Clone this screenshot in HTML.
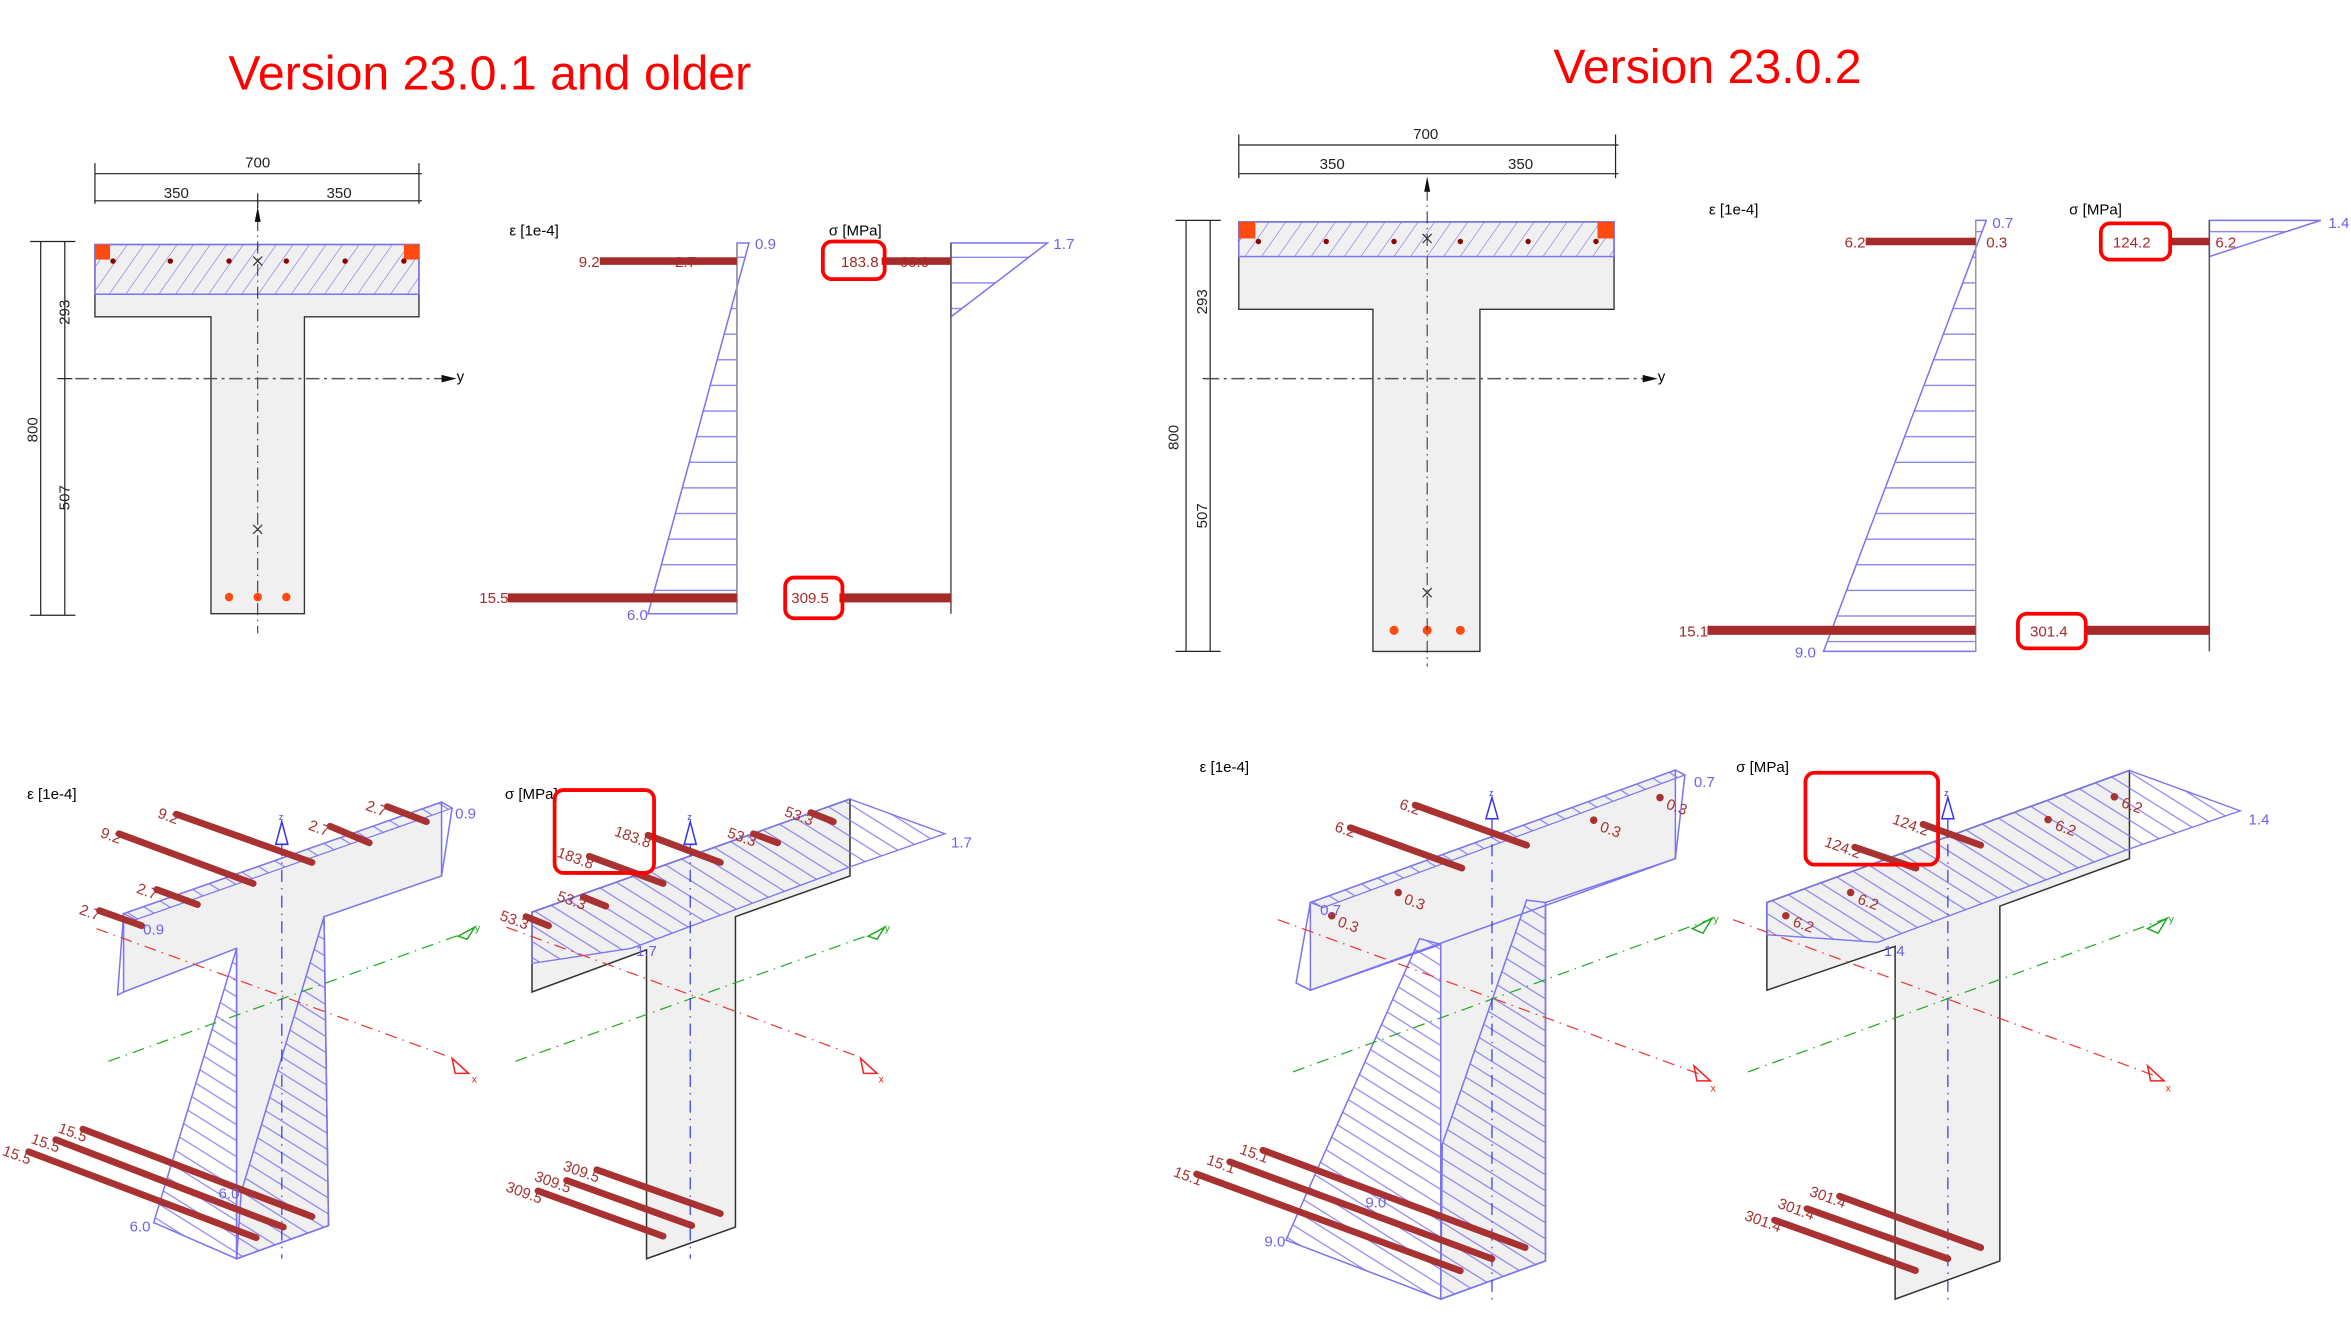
<!DOCTYPE html>
<html><head><meta charset="utf-8"><style>
html,body{margin:0;padding:0;background:#fff;}
svg{display:block;}
text{font-family:"Liberation Sans",sans-serif;}
</style></head><body>
<svg width="2351" height="1342" viewBox="0 0 1560 890" xmlns="http://www.w3.org/2000/svg">
<defs>
<pattern id="hd" width="9" height="9" patternUnits="userSpaceOnUse" patternTransform="rotate(35)"><line x1="0" y1="0" x2="0" y2="9" stroke="#6b62e8" stroke-width="0.7"/></pattern>
<pattern id="hh" width="10" height="17" patternUnits="userSpaceOnUse"><line x1="0" y1="0.5" x2="10" y2="0.5" stroke="#7b74ee" stroke-width="0.8"/></pattern>
<pattern id="h3" width="10" height="9" patternUnits="userSpaceOnUse" patternTransform="rotate(32)"><line x1="0" y1="0.5" x2="10" y2="0.5" stroke="#7b74ee" stroke-width="0.7"/></pattern>
</defs>

<!-- Titles -->
<text x="325" y="59" font-size="32" fill="#f00" text-anchor="middle">Version 23.0.1 and older</text>
<text x="1133" y="55" font-size="32" fill="#f00" text-anchor="middle">Version 23.0.2</text>

<!-- ========== TOP LEFT section ========== -->
<g stroke="#222" stroke-width="0.8" fill="none">
<line x1="63" y1="115" x2="280" y2="115"/><line x1="63" y1="108" x2="63" y2="135"/><line x1="278" y1="108" x2="278" y2="135"/>
<line x1="63" y1="133" x2="280" y2="133"/><line x1="171" y1="128" x2="171" y2="138"/>
<line x1="27" y1="160" x2="27" y2="408"/><line x1="43" y1="160" x2="43" y2="408"/>
<line x1="20" y1="160" x2="50" y2="160"/><line x1="20" y1="408" x2="50" y2="408"/><line x1="38" y1="251" x2="48" y2="251"/>
</g>
<g font-size="10" fill="#222">
<text x="171" y="111" text-anchor="middle">700</text>
<text x="117" y="131" text-anchor="middle">350</text><text x="225" y="131" text-anchor="middle">350</text>
<text transform="translate(25,285) rotate(-90)" text-anchor="middle">800</text>
<text transform="translate(46,207) rotate(-90)" text-anchor="middle">293</text>
<text transform="translate(46,330) rotate(-90)" text-anchor="middle">507</text>
</g>
<path d="M63,162 H278 V210 H202 V407 H140 V210 H63 Z" fill="#f0f0f0" stroke="#333" stroke-width="0.9"/>
<rect x="63" y="162" width="215" height="33" fill="url(#hd)" stroke="#7b74ee" stroke-width="1"/>
<rect x="63" y="162" width="10" height="10" fill="#ff4a10"/><rect x="268" y="162" width="10" height="10" fill="#ff4a10"/>
<g fill="#8b0000"><circle cx="75" cy="173" r="1.8"/><circle cx="113" cy="173" r="1.8"/><circle cx="152" cy="173" r="1.8"/><circle cx="190" cy="173" r="1.8"/><circle cx="229" cy="173" r="1.8"/><circle cx="268" cy="173" r="1.8"/></g>
<g fill="#ff4a10"><circle cx="152" cy="396" r="2.8"/><circle cx="171" cy="396" r="2.8"/><circle cx="190" cy="396" r="2.8"/></g>
<line x1="171" y1="145" x2="171" y2="420" stroke="#333" stroke-width="0.7" stroke-dasharray="8,3,1,3"/>
<path d="M171,137 L169,147 L173,147 Z" fill="#111"/>
<line x1="50" y1="251" x2="298" y2="251" stroke="#555" stroke-width="1" stroke-dasharray="9,3,2,3"/>
<path d="M303,251 L293,248.5 L293,253.5 Z" fill="#111"/><text x="303" y="253" font-size="10">y</text>
<g stroke="#333" stroke-width="0.8"><path d="M168,170 L174,176 M174,170 L168,176"/><path d="M168,348 L174,354 M174,348 L168,354"/></g>

<!-- strain 2D left -->
<text x="338" y="156" font-size="10">ε [1e-4]</text>
<path d="M489,161 L497,161 L430,407 L489,407 Z" fill="url(#hh)" stroke="none"/>
<path d="M489,161 L497,161 L430,407 L489,407 Z" fill="none" stroke="#7b74ee" stroke-width="1"/>
<line x1="489" y1="161" x2="489" y2="407" stroke="#999" stroke-width="1"/>
<rect x="398" y="170.5" width="91" height="5" fill="#a52a2a"/>
<rect x="337" y="393.5" width="152" height="6" fill="#a52a2a"/>
<g font-size="10"><text x="384" y="177" fill="#a52a2a">9.2</text><text x="448" y="177" fill="#a52a2a">2.7</text>
<text x="318" y="400" fill="#a52a2a">15.5</text>
<text x="501" y="165" fill="#6b62e8">0.9</text><text x="416" y="411" fill="#6b62e8">6.0</text></g>
<!-- stress 2D left -->
<text x="550" y="156" font-size="10">σ [MPa]</text>
<path d="M631,161 L695,161 L631,210 Z" fill="url(#hh)" stroke="#7b74ee" stroke-width="1"/>
<line x1="631" y1="161" x2="631" y2="407" stroke="#555" stroke-width="1"/>
<rect x="585" y="170.5" width="46" height="5" fill="#a52a2a"/>
<rect x="557" y="393.5" width="74" height="6" fill="#a52a2a"/>
<g font-size="10" fill="#a52a2a"><text x="558" y="177">183.8</text><text x="597" y="177">60.0</text><text x="525" y="400">309.5</text></g>
<text x="699" y="165" font-size="10" fill="#6b62e8">1.7</text>
<rect x="546" y="160" width="41" height="25" rx="6" fill="none" stroke="#f00" stroke-width="2.5"/>
<rect x="521" y="383" width="38" height="27" rx="6" fill="none" stroke="#f00" stroke-width="2.5"/>

<!-- ========== TOP RIGHT section ========== -->
<g stroke="#222" stroke-width="0.8" fill="none">
<line x1="822" y1="96" x2="1074" y2="96"/><line x1="822" y1="89" x2="822" y2="118"/><line x1="1072" y1="89" x2="1072" y2="118"/>
<line x1="822" y1="115" x2="1074" y2="115"/>
<line x1="787" y1="146" x2="787" y2="432"/><line x1="803" y1="146" x2="803" y2="432"/>
<line x1="780" y1="146" x2="810" y2="146"/><line x1="780" y1="432" x2="810" y2="432"/><line x1="798" y1="251" x2="808" y2="251"/>
</g>
<g font-size="10" fill="#222">
<text x="946" y="92" text-anchor="middle">700</text>
<text x="884" y="112" text-anchor="middle">350</text><text x="1009" y="112" text-anchor="middle">350</text>
<text transform="translate(782,290) rotate(-90)" text-anchor="middle">800</text>
<text transform="translate(801,200) rotate(-90)" text-anchor="middle">293</text>
<text transform="translate(801,342) rotate(-90)" text-anchor="middle">507</text>
</g>
<path d="M822,147 H1071 V205 H982 V432 H911 V205 H822 Z" fill="#f0f0f0" stroke="#333" stroke-width="0.9"/>
<rect x="822" y="147" width="249" height="23" fill="url(#hd)" stroke="#7b74ee" stroke-width="1"/>
<rect x="822" y="147" width="11" height="11" fill="#ff4a10"/><rect x="1060" y="147" width="11" height="11" fill="#ff4a10"/>
<g fill="#8b0000"><circle cx="835" cy="160" r="1.8"/><circle cx="880" cy="160" r="1.8"/><circle cx="925" cy="160" r="1.8"/><circle cx="969" cy="160" r="1.8"/><circle cx="1014" cy="160" r="1.8"/><circle cx="1059" cy="160" r="1.8"/></g>
<g fill="#ff4a10"><circle cx="925" cy="418" r="3"/><circle cx="947" cy="418" r="3"/><circle cx="969" cy="418" r="3"/></g>
<line x1="947" y1="125" x2="947" y2="442" stroke="#333" stroke-width="0.7" stroke-dasharray="8,3,1,3"/>
<path d="M947,117 L945,127 L949,127 Z" fill="#111"/>
<line x1="800" y1="251" x2="1095" y2="251" stroke="#555" stroke-width="1" stroke-dasharray="9,3,2,3"/>
<path d="M1100,251 L1090,248.5 L1090,253.5 Z" fill="#111"/><text x="1100" y="253" font-size="10">y</text>
<g stroke="#333" stroke-width="0.8"><path d="M944,155 L950,161 M950,155 L944,161"/><path d="M944,390 L950,396 M950,390 L944,396"/></g>

<text x="1134" y="142" font-size="10">ε [1e-4]</text>
<path d="M1311,146 L1318,146 L1210,432 L1311,432 Z" fill="url(#hh)"/>
<path d="M1311,146 L1318,146 L1210,432 L1311,432 Z" fill="none" stroke="#7b74ee" stroke-width="1"/>
<line x1="1311" y1="146" x2="1311" y2="432" stroke="#999"/>
<rect x="1238" y="157.5" width="73" height="5" fill="#a52a2a"/>
<rect x="1133" y="415" width="178" height="6" fill="#a52a2a"/>
<g font-size="10" fill="#a52a2a"><text x="1224" y="164">6.2</text><text x="1318" y="164">0.3</text><text x="1114" y="422">15.1</text></g>
<g font-size="10" fill="#6b62e8"><text x="1322" y="151">0.7</text><text x="1191" y="436">9.0</text></g>
<text x="1373" y="142" font-size="10">σ [MPa]</text>
<path d="M1466,146 L1540,146 L1466,170 Z" fill="url(#hh)" stroke="#7b74ee"/>
<line x1="1466" y1="146" x2="1466" y2="432" stroke="#555"/>
<rect x="1440" y="157.5" width="26" height="5" fill="#a52a2a"/>
<rect x="1383" y="415" width="83" height="6" fill="#a52a2a"/>
<g font-size="10" fill="#a52a2a"><text x="1402" y="164">124.2</text><text x="1470" y="164">6.2</text><text x="1347" y="422">301.4</text></g>
<text x="1545" y="151" font-size="10" fill="#6b62e8">1.4</text>
<rect x="1394" y="148" width="46" height="24" rx="6" fill="none" stroke="#f00" stroke-width="2.5"/>
<rect x="1339" y="407" width="45" height="23" rx="6" fill="none" stroke="#f00" stroke-width="2.5"/>

<!-- ========== BOTTOM LEFT strain 3D ========== -->
<text x="18" y="530" font-size="10">ε [1e-4]</text>
<path d="M82,606 L293,532 L293,581 L215,608 L218,813 L157,835 L157,629 L82,658 Z" fill="#f0f0f0" stroke="#7b74ee" stroke-width="1"/>
<path d="M157,629 L102,811 L157,835 Z" fill="url(#h3)" stroke="#7b74ee"/>
<path d="M215,608 L218,813 L157,835 L160,791 Z" fill="url(#h3)" stroke="#7b74ee"/>
<path d="M82,606 L293,532 L300,536 L90,610 Z" fill="url(#h3)" stroke="#7b74ee" stroke-width="0.8"/>
<path d="M293,532 L300,536 L293,581" fill="none" stroke="#7b74ee"/>
<path d="M82,606 L78,660 L82,658" fill="none" stroke="#7b74ee"/>
<line x1="64" y1="616" x2="298" y2="701" stroke="#e33" stroke-width="0.8" stroke-dasharray="8,4,1,4"/>
<line x1="72" y1="704" x2="308" y2="619" stroke="#2a2" stroke-width="0.8" stroke-dasharray="8,4,1,4"/>
<line x1="187" y1="560" x2="187" y2="835" stroke="#33e" stroke-width="0.8" stroke-dasharray="8,4,1,4"/>
<path d="M300,702 L311,712 L302,712 Z" fill="none" stroke="#e22"/><text x="313" y="718" font-size="7" fill="#e22">x</text>
<path d="M304,621 L315,615 L310,623 Z" fill="none" stroke="#2a2"/><text x="315" y="618" font-size="7" fill="#2a2">y</text>
<path d="M187,545 L183,560 L191,560 Z" fill="none" stroke="#33e"/><text x="185" y="544" font-size="6" fill="#33e">z</text>
<g stroke="#a83232" stroke-width="4.5" stroke-linecap="round">
<line x1="117" y1="540" x2="207" y2="572"/><line x1="79" y1="553" x2="168" y2="586"/>
<line x1="257" y1="535" x2="283" y2="545"/><line x1="219" y1="548" x2="245" y2="559"/>
<line x1="104" y1="590" x2="131" y2="600"/><line x1="66" y1="604" x2="94" y2="614"/>
<line x1="55" y1="749" x2="207" y2="807"/><line x1="37" y1="756" x2="188" y2="814"/><line x1="19" y1="764" x2="170" y2="821"/>
</g>
<g font-size="10" fill="#a83232">
<text transform="translate(104,542) rotate(20)">9.2</text><text transform="translate(66,555) rotate(20)">9.2</text>
<text transform="translate(242,537) rotate(20)">2.7</text><text transform="translate(204,550) rotate(20)">2.7</text>
<text transform="translate(90,592) rotate(20)">2.7</text><text transform="translate(52,606) rotate(20)">2.7</text>
<text transform="translate(38,751) rotate(20)">15.5</text><text transform="translate(20,758) rotate(20)">15.5</text><text transform="translate(1,766) rotate(20)">15.5</text>
</g>
<g font-size="10" fill="#6b62e8"><text x="302" y="543">0.9</text><text x="95" y="620">0.9</text><text x="86" y="817">6.0</text><text x="145" y="795">6.0</text></g>

<!-- ========== BOTTOM LEFT stress 3D ========== -->
<text x="335" y="530" font-size="10">σ [MPa]</text>
<path d="M353,605 L564,530 L564,581 L488,608 L488,814 L429,835 L429,630 L353,658 Z" fill="#f0f0f0" stroke="#333" stroke-width="1"/>
<path d="M353,605 L564,530 L627,553 L564,575 L419,629 L353,639 Z" fill="url(#h3)" stroke="#7b74ee" stroke-width="0.9"/>
<line x1="336" y1="615" x2="570" y2="701" stroke="#e33" stroke-width="0.8" stroke-dasharray="8,4,1,4"/>
<line x1="342" y1="704" x2="580" y2="619" stroke="#2a2" stroke-width="0.8" stroke-dasharray="8,4,1,4"/>
<line x1="458" y1="560" x2="458" y2="835" stroke="#33e" stroke-width="0.8" stroke-dasharray="8,4,1,4"/>
<path d="M571,702 L582,712 L573,712 Z" fill="none" stroke="#e22"/><text x="583" y="718" font-size="7" fill="#e22">x</text>
<path d="M576,621 L587,615 L582,623 Z" fill="none" stroke="#2a2"/><text x="587" y="618" font-size="7" fill="#2a2">y</text>
<path d="M458,545 L454,560 L462,560 Z" fill="none" stroke="#33e"/><text x="456" y="544" font-size="6" fill="#33e">z</text>
<g stroke="#a83232" stroke-width="4.5" stroke-linecap="round">
<line x1="430" y1="554" x2="478" y2="572"/><line x1="391" y1="568" x2="440" y2="586"/>
<line x1="538" y1="539" x2="553" y2="545"/><line x1="500" y1="553" x2="516" y2="559"/>
<line x1="387" y1="595" x2="402" y2="601"/><line x1="349" y1="608" x2="364" y2="614"/>
<line x1="396" y1="776" x2="478" y2="805"/><line x1="376" y1="783" x2="459" y2="813"/><line x1="357" y1="790" x2="440" y2="820"/>
</g>
<g font-size="10" fill="#a83232">
<text transform="translate(407,554) rotate(20)">183.8</text><text transform="translate(369,568) rotate(20)">183.8</text>
<text transform="translate(520,541) rotate(20)">53.3</text><text transform="translate(482,555) rotate(20)">53.3</text>
<text transform="translate(369,597) rotate(20)">53.3</text><text transform="translate(331,610) rotate(20)">53.3</text>
<text transform="translate(373,776) rotate(20)">309.5</text><text transform="translate(354,783) rotate(20)">309.5</text><text transform="translate(335,790) rotate(20)">309.5</text>
</g>
<g font-size="10" fill="#6b62e8"><text x="631" y="562">1.7</text><text x="422" y="634">1.7</text></g>
<rect x="368" y="524" width="66" height="55" rx="6" fill="none" stroke="#f00" stroke-width="2.5"/>

<!-- ========== BOTTOM RIGHT strain 3D ========== -->
<text x="796" y="512" font-size="10">ε [1e-4]</text>
<path d="M869.5,598.6 L1111.7,510.7 L1111.7,569.5 L1025.5,598.6 L1025.5,836.5 L956,861.8 L956,626.4 L869.5,656.8 Z" fill="#f0f0f0" stroke="#7b74ee" stroke-width="1"/>
<path d="M942,622.6 L853.3,822.6 L956,861.8 L956,626.4 Z" fill="url(#h3)" stroke="#7b74ee"/>
<path d="M1013,597 L1025.5,598.6 L1025.5,836.5 L956,861.8 L957,759 Z" fill="url(#h3)" stroke="#7b74ee"/>
<path d="M869.5,598.6 L1111.7,510.7 L1118,514 L878,602 Z" fill="url(#h3)" stroke="#7b74ee" stroke-width="0.8"/>
<path d="M1111.7,510.7 L1118,514 L1111.7,569.5 L869.5,656.8 L860,652 L869.5,598.6" fill="none" stroke="#7b74ee"/>
<line x1="848" y1="610" x2="1132" y2="714" stroke="#e33" stroke-width="0.8" stroke-dasharray="8,4,1,4"/>
<line x1="858" y1="711" x2="1137" y2="609" stroke="#2a2" stroke-width="0.8" stroke-dasharray="8,4,1,4"/>
<line x1="990" y1="543" x2="990" y2="862" stroke="#33e" stroke-width="0.8" stroke-dasharray="8,4,1,4"/>
<path d="M1124,707 L1135,717 L1126,717 Z" fill="none" stroke="#e22"/><text x="1135" y="724" font-size="7" fill="#e22">x</text>
<path d="M1123,616 L1136,609 L1130,619 Z" fill="none" stroke="#2a2"/><text x="1137" y="612" font-size="7" fill="#2a2">y</text>
<path d="M990,529 L986,543 L994,543 Z" fill="none" stroke="#33e"/><text x="988" y="528" font-size="6" fill="#33e">z</text>
<g stroke="#a83232" stroke-width="4.5" stroke-linecap="round">
<line x1="939" y1="534" x2="1013" y2="560.6"/><line x1="896" y1="549" x2="970" y2="575.8"/>
<line x1="838" y1="763" x2="1012" y2="827.6"/><line x1="816" y1="770.7" x2="990" y2="835"/><line x1="794" y1="778.8" x2="969" y2="843"/>
</g>
<g fill="#a83232"><circle cx="1101.5" cy="529" r="2.5"/><circle cx="1057.5" cy="544" r="2.5"/><circle cx="927.8" cy="592" r="2.5"/><circle cx="883.7" cy="607.4" r="2.5"/></g>
<g font-size="10" fill="#a83232">
<text transform="translate(928,536) rotate(20)">6.2</text><text transform="translate(885,551) rotate(20)">6.2</text>
<text transform="translate(1105,536) rotate(20)">0.3</text><text transform="translate(1061,551) rotate(20)">0.3</text>
<text transform="translate(931,599) rotate(20)">0.3</text><text transform="translate(887,614) rotate(20)">0.3</text>
<text transform="translate(822,765) rotate(20)">15.1</text><text transform="translate(800,772) rotate(20)">15.1</text><text transform="translate(778,780) rotate(20)">15.1</text>
</g>
<g font-size="10" fill="#6b62e8"><text x="1124" y="522">0.7</text><text x="876" y="607">0.7</text><text x="839" y="827">9.0</text><text x="906" y="801">9.0</text></g>

<!-- ========== BOTTOM RIGHT stress 3D ========== -->
<text x="1152" y="512" font-size="10">σ [MPa]</text>
<path d="M1172.4,598.6 L1413,511 L1413,569.5 L1327,601 L1327,836.5 L1257.5,861.8 L1257.5,627.7 L1172.4,656.8 Z" fill="#f0f0f0" stroke="#333" stroke-width="1"/>
<path d="M1172.4,598.6 L1413,511 L1486.5,537.8 L1413,563 L1246,625 L1172.4,620 Z" fill="url(#h3)" stroke="#7b74ee" stroke-width="0.9"/>
<line x1="1150" y1="610" x2="1431" y2="714" stroke="#e33" stroke-width="0.8" stroke-dasharray="8,4,1,4"/>
<line x1="1160" y1="711" x2="1438" y2="609" stroke="#2a2" stroke-width="0.8" stroke-dasharray="8,4,1,4"/>
<line x1="1292.5" y1="543" x2="1292.5" y2="862" stroke="#33e" stroke-width="0.8" stroke-dasharray="8,4,1,4"/>
<path d="M1425,707 L1436,717 L1427,717 Z" fill="none" stroke="#e22"/><text x="1437" y="724" font-size="7" fill="#e22">x</text>
<path d="M1425,616 L1438,609 L1432,619 Z" fill="none" stroke="#2a2"/><text x="1439" y="612" font-size="7" fill="#2a2">y</text>
<path d="M1292.5,529 L1288.5,543 L1296.5,543 Z" fill="none" stroke="#33e"/><text x="1290" y="528" font-size="6" fill="#33e">z</text>
<g stroke="#a83232" stroke-width="4.5" stroke-linecap="round">
<line x1="1276" y1="546.7" x2="1314.3" y2="560.6"/><line x1="1230.7" y1="561.9" x2="1271.3" y2="575.8"/>
<line x1="1220.6" y1="793.5" x2="1314.3" y2="827.6"/><line x1="1199" y1="801.8" x2="1292.5" y2="835"/><line x1="1177.5" y1="809.4" x2="1271" y2="842.8"/>
</g>
<g fill="#a83232"><circle cx="1403" cy="528.5" r="2.5"/><circle cx="1359" cy="543.6" r="2.5"/><circle cx="1228" cy="592" r="2.5"/><circle cx="1185" cy="607.4" r="2.5"/></g>
<g font-size="10" fill="#a83232">
<text transform="translate(1255,546) rotate(20)">124.2</text><text transform="translate(1210,561) rotate(20)">124.2</text>
<text transform="translate(1407,535) rotate(20)">6.2</text><text transform="translate(1363,550) rotate(20)">6.2</text>
<text transform="translate(1232,599) rotate(20)">6.2</text><text transform="translate(1189,614) rotate(20)">6.2</text>
<text transform="translate(1200,793) rotate(20)">301.4</text><text transform="translate(1179,801) rotate(20)">301.4</text><text transform="translate(1157,809) rotate(20)">301.4</text>
</g>
<g font-size="10" fill="#6b62e8"><text x="1492" y="547">1.4</text><text x="1250" y="634">1.4</text></g>
<rect x="1198" y="512.5" width="88" height="61" rx="6" fill="none" stroke="#f00" stroke-width="2.5"/>
</svg>
</body></html>
